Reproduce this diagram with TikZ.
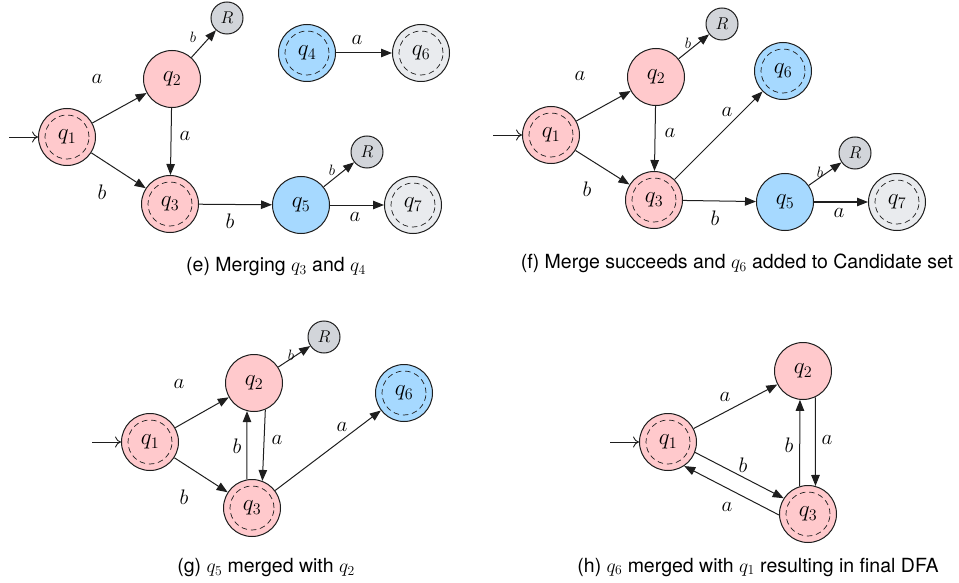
\RequirePackage{fix-cm}
\documentclass[tikz,border=0pt]{standalone}
\usepackage[no-math]{fontspec}
\newfontfamily\capfont{TeX Gyre Heros}
\usetikzlibrary{arrows.meta}
\definecolor{pinkfill}{HTML}{FFC9CC}
\definecolor{bluefill}{HTML}{A6D9FF}
\definecolor{rfill}{HTML}{D2D5DA}
\definecolor{lgfill}{HTML}{E9EBEE}
\definecolor{ink}{HTML}{1E1E1E}
\begin{document}
\begin{tikzpicture}[x=1pt,y=-1pt,
 st/.style={circle, draw=ink, line width=1pt, minimum size=57pt, inner sep=0pt, font=\fontsize{23}{23}\selectfont},
 acc/.style={st, path picture={\draw[ink, dash pattern=on 5.5pt off 3.8pt, line width=0.7pt] (path picture bounding box.center) circle[radius=22pt];}},
 pk/.style={fill=pinkfill}, bl/.style={fill=bluefill}, lg/.style={fill=lgfill},
 rej/.style={circle, draw=ink, line width=1pt, fill=rfill, minimum size=32pt, inner sep=0pt, font=\fontsize{17}{17}\selectfont},
 tr/.style={draw=ink, -{Triangle[length=11pt,width=8.5pt]}, line width=1pt},
 init/.style={draw=ink, -{To[length=6pt,width=11pt]}, line width=0.9pt},
 lab/.style={font=\fontsize{21}{21}\selectfont, inner sep=0pt},
 slab/.style={font=\fontsize{15}{15}\selectfont, inner sep=0pt},
 captxt/.style={font=\capfont\fontsize{19.5}{20}\selectfont, inner sep=0pt}]
\useasboundingbox (0,0) rectangle (959,583);

% ---------- (e)
\node[acc,pk] (e1) at (67,137) {$q_1$};
\node[st,pk] (e2) at (172,79) {$q_2$};
\node[rej] (eR1) at (227,18) {$R$};
\node[acc,pk] (e3) at (170,204) {$q_3$};
\node[acc,bl] (e4) at (307,53) {$q_4$};
\node[acc,lg] (e6) at (421,53) {$q_6$};
\node[st,bl] (e5) at (301,205) {$q_5$};
\node[rej] (eR2) at (367,152) {$R$};
\node[acc,lg] (e7) at (413,205) {$q_7$};
\coordinate (ein) at (9,137);
\draw[init] (ein) -- (e1);
\draw[tr] (e1) -- (e2);
\draw[tr] (e1) -- (e3);
\draw[tr] (e2) -- (e3);
\draw[tr] (e2) -- (eR1);
\draw[tr] (e4) -- (e6);
\draw[tr] (e3) -- (e5);
\draw[tr] (e5) -- (eR2);
\draw[tr] (e5) -- (e7);
\node[lab] (el1) at (97,79) {$a$};
\node[lab] (el2) at (185,136) {$a$};
\node[lab] (el3) at (102,192) {$b$};
\node[slab] (el4) at (193,37) {$b$};
\node[lab] (el5) at (357,40) {$a$};
\node[slab] (el6) at (332,170) {$b$};
\node[lab] (el7) at (230,221) {$b$};
\node[lab] (el8) at (355,217) {$a$};
\node[captxt] (ecap) at (276,267) {(e) Merging $q_3$ and $q_4$};

% ---------- (f)
\node[acc,pk] (f1) at (551,135) {$q_1$};
\node[st,pk] (f2) at (656,77) {$q_2$};
\node[rej] (fR1) at (722,24) {$R$};
\node[acc,bl] (f6) at (783,71) {$q_6$};
\node[acc,pk] (f3) at (654,200) {$q_3$};
\node[st,bl] (f5) at (785,202) {$q_5$};
\node[rej] (fR2) at (855,153) {$R$};
\node[acc,lg] (f7) at (897,202) {$q_7$};
\coordinate (fin) at (493,135);
\draw[init] (fin) -- (f1);
\draw[tr] (f1) -- (f2);
\draw[tr] (f1) -- (f3);
\draw[tr] (f2) -- (f3);
\draw[tr] (f2) -- (fR1);
\draw[tr] (f3) -- (f6);
\draw[tr] (f3) -- (f5);
\draw[tr] (f5) -- (fR2);
\draw[tr] (f5) -- (f7);
\node[lab] (fl1) at (580,76) {$a$};
\node[lab] (fl2) at (670,133) {$a$};
\node[lab] (fl3) at (587,189) {$b$};
\node[lab] (fl4) at (727,112) {$a$};
\node[slab] (fl5) at (688,43) {$b$};
\node[lab] (fl6) at (715,218) {$b$};
\node[slab] (fl7) at (820,172) {$b$};
\node[lab] (fl8) at (839,213) {$a$};
\node[captxt] (fcap) at (737,263) {(f) Merge succeeds and $q_6$ added to Candidate set};

% ---------- (g)
\node[acc,pk] (g1) at (150,442) {$q_1$};
\node[st,pk] (g2) at (254,383) {$q_2$};
\node[rej] (gR) at (324,337) {$R$};
\node[acc,bl] (g6) at (404,393) {$q_6$};
\node[acc,pk] (g3) at (252,508) {$q_3$};
\coordinate (gin) at (92,442);
\draw[init] (gin) -- (g1);
\draw[tr] (g1) -- (g2);
\draw[tr] (g1) -- (g3);
\draw[tr] (g2) -- (gR);
\draw[tr] (g3.100) -- (g2.256);
\draw[tr] (g2.293) -- (g3.69);
\draw[tr] (g3) -- (g6);
\node[lab] (gl1) at (179,384) {$a$};
\node[lab] (gl2) at (184,497) {$b$};
\node[lab] (gl3) at (237,446) {$b$};
\node[lab] (gl4) at (277,440) {$a$};
\node[lab] (gl5) at (342,427) {$a$};
\node[slab] (gl6) at (291,355) {$b$};
\node[captxt] (gcap) at (266,568) {(g) $q_5$ merged with $q_2$};

% ---------- (h)
\node[acc,pk] (h1) at (668,442) {$q_1$};
\node[st,pk] (h2) at (803,371) {$q_2$};
\node[acc,pk] (h3) at (808,514) {$q_3$};
\coordinate (hin) at (610,442);
\draw[init] (hin) -- (h1);
\draw[tr] (h1) -- (h2);
\draw[tr] (h1.339) -- (h3.147);
\draw[tr] (h3.182) -- (h1.304);
\draw[tr] (h3.107) -- (h2.264);
\draw[tr] (h2.295) -- (h3.75);
\node[lab] (hl1) at (725,397) {$a$};
\node[lab] (hl2) at (743,465) {$b$};
\node[lab] (hl3) at (727,507) {$a$};
\node[lab] (hl4) at (789,445) {$b$};
\node[lab] (hl5) at (827,440) {$a$};
\node[captxt] (hcap) at (758,567) {(h) $q_6$ merged with $q_1$ resulting in final DFA};
\end{tikzpicture}
\end{document}
